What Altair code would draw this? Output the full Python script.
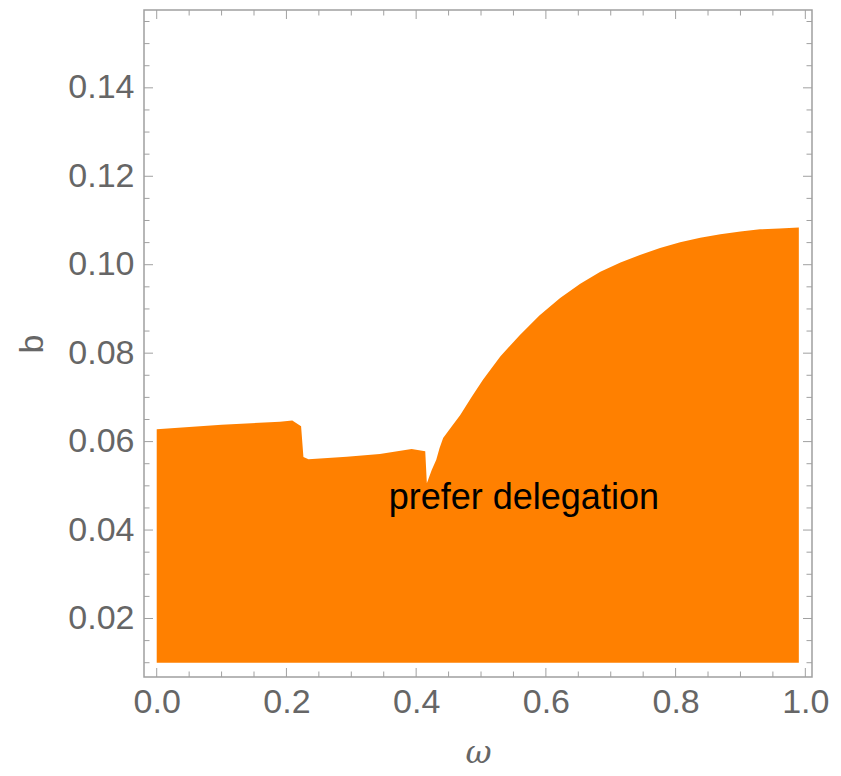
import altair as alt
import pandas as pd

# Upper boundary of the "prefer delegation" region (omega, b)
omega = [0.0, 0.10, 0.19, 0.209, 0.2226, 0.2262, 0.234, 0.293, 0.344, 0.393, 0.414, 0.4165,
         0.424, 0.431, 0.436, 0.4416, 0.455, 0.468, 0.485, 0.503, 0.530, 0.560, 0.590,
         0.622, 0.653, 0.684, 0.715, 0.745, 0.776, 0.807, 0.838, 0.869, 0.900, 0.930,
         0.960, 0.990]
b_top = [0.0628, 0.0638, 0.0645, 0.0648, 0.0635, 0.0565, 0.0560, 0.0566, 0.0572, 0.0583, 0.0578, 0.0506,
         0.0536, 0.0559, 0.0585, 0.0608, 0.0635, 0.0660, 0.0700, 0.0740, 0.0793, 0.0841, 0.0885,
         0.0925, 0.0957, 0.0984, 0.1005, 0.1022, 0.1038, 0.1051, 0.1061, 0.1069, 0.1075, 0.1080,
         0.1082, 0.1084]
b_bottom = 0.01

x_major = [0.0, 0.2, 0.4, 0.6, 0.8, 1.0]
x_minor = [0.05, 0.1, 0.15, 0.25, 0.3, 0.35, 0.45, 0.5, 0.55, 0.65, 0.7, 0.75, 0.85, 0.9, 0.95]
y_major = [0.02, 0.04, 0.06, 0.08, 0.10, 0.12, 0.14]
y_minor = [0.01, 0.015, 0.025, 0.03, 0.035, 0.045, 0.05, 0.055, 0.065, 0.07, 0.075,
           0.085, 0.09, 0.095, 0.105, 0.11, 0.115, 0.125, 0.13, 0.135, 0.145, 0.15, 0.155]

label_text = ["prefer delegation"]
label_x = [0.566]
label_y = [0.0472]

W, H = 668, 667
X_DOM = [-0.0196, 1.0103]
Y_DOM = [0.00677, 0.1576]
FRAME = "#a0a0a0"
LABEL = "#666666"
FONT = "Liberation Sans"

xs = alt.Scale(domain=X_DOM, nice=False, zero=False)
ys = alt.Scale(domain=Y_DOM, nice=False, zero=False)

xaxis = alt.Axis(values=x_major, format=".1f", ticks=False, domain=False, grid=False,
                 labelFont=FONT, labelFontSize=34, labelColor=LABEL, labelPadding=8,
                 title="ω", titleFont="DejaVu Serif", titleFontStyle="italic",
                 titleFontWeight="normal", titleFontSize=32, titleColor=LABEL,
                 titlePadding=18)
yaxis = alt.Axis(values=y_major, format=".2f", ticks=False, domain=False, grid=False,
                 labelFont=FONT, labelFontSize=34, labelColor=LABEL, labelPadding=10,
                 title="b", titleFont=FONT, titleFontWeight="normal", titleFontSize=34,
                 titleColor=LABEL, titlePadding=18)

region = pd.DataFrame({"omega": omega, "b": b_top, "b0": [b_bottom] * len(omega)})

area = alt.Chart(region).mark_area(color="#ff8000", opacity=1, interpolate="linear").encode(
    x=alt.X("omega:Q", scale=xs, axis=xaxis),
    y=alt.Y("b:Q", scale=ys, axis=yaxis),
    y2="b0:Q",
)


def xticks(vals, length, top):
    df = pd.DataFrame({"v": vals})
    if top:
        y1, y2 = 0, length
    else:
        y1, y2 = H, H - length
    return alt.Chart(df).mark_rule(color=FRAME, strokeWidth=1).encode(
        x=alt.X("v:Q", scale=xs, axis=xaxis), y=alt.value(y1), y2=alt.value(y2))


def yticks(vals, length, right):
    df = pd.DataFrame({"v": vals})
    if right:
        x1, x2 = W, W - length
    else:
        x1, x2 = 0, length
    return alt.Chart(df).mark_rule(color=FRAME, strokeWidth=1).encode(
        y=alt.Y("v:Q", scale=ys, axis=yaxis), x=alt.value(x1), x2=alt.value(x2))


ticks = [
    xticks(x_major, 9, False), xticks(x_minor, 5.5, False),
    xticks(x_major, 9, True), xticks(x_minor, 5.5, True),
    yticks(y_major, 9, False), yticks(y_minor, 5.5, False),
    yticks(y_major, 9, True), yticks(y_minor, 5.5, True),
]

ann = alt.Chart(pd.DataFrame({"t": label_text, "x": label_x, "y": label_y})).mark_text(
    font=FONT, fontSize=36, color="black", align="center", baseline="middle"
).encode(x=alt.X("x:Q", scale=xs, axis=xaxis), y=alt.Y("y:Q", scale=ys, axis=yaxis), text="t:N")

chart = alt.layer(area, *ticks, ann).properties(
    width=W, height=H,
    autosize=alt.AutoSizeParams(type="none"),
    padding={"left": 136, "top": 2, "right": 20, "bottom": 95},
    background="white",
).configure_view(stroke=FRAME, strokeWidth=1.5)

chart.save("out.html", embed_options={"renderer": "svg", "actions": False})
